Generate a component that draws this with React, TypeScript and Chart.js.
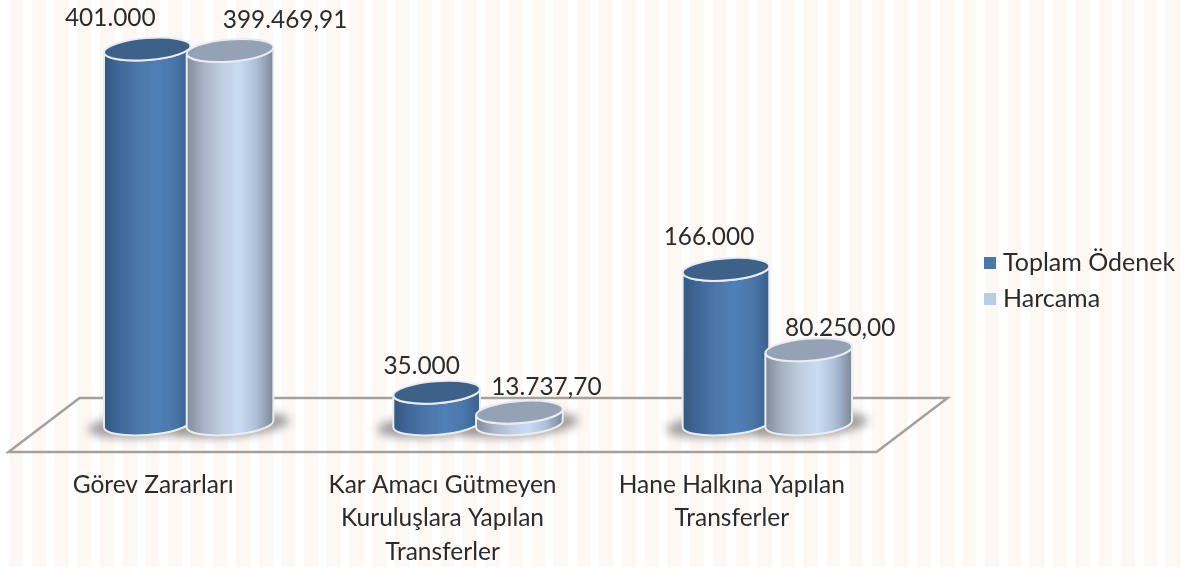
import React, { useEffect, useRef } from "react";
import { Chart, registerables } from "chart.js";

Chart.register(...registerables);

const categories = [
  ["Görev Zararları"],
  ["Kar Amacı Gütmeyen", "Kuruluşlara Yapılan", "Transferler"],
  ["Hane Halkına Yapılan", "Transferler"],
];
const toplamOdenek = [401000, 35000, 166000];
const harcama = [399469.91, 13737.7, 80250];
const seriesNames = ["Toplam Ödenek", "Harcama"];
const legendColors = ["#4a77aa", "#b9cce4"];

const FONT = "Lato, Carlito, 'Open Sans', sans-serif";
const TEXT = "#2b2b2b";
const TILT = (-4.5 * Math.PI) / 180;
const RY = 11;
const DEPTH_X = 71;
const DEPTH_Y = 54;

const looks = [
  {
    stops: ["#34597f", "#41699a", "#4d78a8", "#4f7fb6", "#4a78ac", "#3a5f8a"],
    top: "#3e6189",
    fraction: 0,
  },
  {
    stops: ["#7f8b9a", "#a8b4c5", "#bfcde0", "#c9dcf3", "#aec0d8", "#7c8897"],
    top: "#95a2b6",
    fraction: 2,
  },
];

const labelNudges = [
  [[-37, -31], [-15, -26], [-17, -32]],
  [[55, -30], [27, -25], [31.5, -22]],
];

function swatch(color: string) {
  const c = document.createElement("canvas");
  c.width = 12;
  c.height = 12;
  const x = c.getContext("2d") as CanvasRenderingContext2D;
  x.fillStyle = color;
  x.fillRect(0, 0, 12, 12);
  return c;
}

const cylinders = {
  id: "cylinders",
  beforeDraw(chart: any) {
    const { ctx, chartArea: a, width, height } = chart;
    ctx.save();
    ctx.fillStyle = "#ffffff";
    ctx.fillRect(0, 0, width, height);
    ctx.fillStyle = "#fef8f5";
    for (let x = 9.3; x < width - 5; x += 22.69) ctx.fillRect(x, 0, 14, height);

    ctx.strokeStyle = "#a5a09b";
    ctx.lineWidth = 2.5;
    ctx.lineJoin = "miter";
    ctx.beginPath();
    ctx.moveTo(a.left, a.bottom);
    ctx.lineTo(a.right, a.bottom);
    ctx.lineTo(a.right + DEPTH_X, a.bottom - DEPTH_Y);
    ctx.lineTo(a.left + DEPTH_X, a.bottom - DEPTH_Y);
    ctx.closePath();
    ctx.stroke();
    ctx.restore();

    if (chart.legend) {
      chart.legend.left = 978.5;
      chart.legend.right = 1187;
      chart.legend.top = 239;
      chart.legend.bottom = 330;
      chart.legend.adjustHitBoxes();
    }
  },
  beforeDatasetDraw() {
    return false;
  },
  afterDatasetsDraw(chart: any) {
    const { ctx } = chart;
    const count = chart.data.labels.length;
    // shadows first, so no cylinder is dimmed by its neighbour's shadow
    for (let i = 0; i < count; i++) {
      chart.data.datasets.forEach((_: any, d: number) => {
        const el = chart.getDatasetMeta(d).data[i];
        const cx = el.x + DEPTH_X / 2;
        const base = el.base - DEPTH_Y / 2 - 1;
        ctx.save();
        ctx.filter = "blur(5px)";
        ctx.fillStyle = "#a09c9a";
        ctx.beginPath();
        ctx.ellipse(cx, base + 1, el.width / 2 + 18, RY + 1, TILT, 0, Math.PI * 2);
        ctx.fill();
        ctx.restore();
      });
    }
    for (let i = 0; i < count; i++) {
      chart.data.datasets.forEach((ds: any, d: number) => {
        const el = chart.getDatasetMeta(d).data[i];
        const look = looks[d];
        const cx = el.x + DEPTH_X / 2;
        const base = el.base - DEPTH_Y / 2 - 1;
        const top = el.y - DEPTH_Y / 2;
        const rx = (el.width * 1.05) / 2;
        const t = Math.atan(-(RY / rx) * Math.tan(TILT));
        const ext = Math.hypot(rx * Math.cos(TILT), RY * Math.sin(TILT));

        const g = ctx.createLinearGradient(cx - ext, 0, cx + ext, 0);
        look.stops.forEach((c, k) => g.addColorStop(k / (look.stops.length - 1), c));

        ctx.save();
        ctx.filter = "blur(0.5px)";
        ctx.lineWidth = 2;
        ctx.strokeStyle = "#e9edf1";
        ctx.beginPath();
        ctx.ellipse(cx, base, rx, RY, TILT, t, t + Math.PI);
        ctx.ellipse(cx, top, rx, RY, TILT, t + Math.PI, t, true);
        ctx.closePath();
        ctx.fillStyle = g;
        ctx.fill();
        ctx.stroke();

        ctx.beginPath();
        ctx.ellipse(cx, top, rx, RY, TILT, 0, Math.PI * 2);
        ctx.fillStyle = look.top;
        ctx.fill();
        ctx.stroke();
        ctx.restore();

        const [nx, ny] = labelNudges[d][i];
        const text = ds.data[i].toLocaleString("tr-TR", {
          minimumFractionDigits: look.fraction,
          maximumFractionDigits: look.fraction,
        });
        ctx.save();
        ctx.font = `24.4px ${FONT}`;
        ctx.fillStyle = TEXT;
        ctx.textAlign = "center";
        ctx.textBaseline = "middle";
        ctx.fillText(text, cx + nx, top + ny);
        ctx.restore();
      });
    }
  },
};

export default function App() {
  const ref = useRef<HTMLCanvasElement>(null);
  useEffect(() => {
    document.body.style.margin = "0";
    const chart = new Chart(ref.current as any, {
      type: "bar",
      data: {
        labels: categories,
        datasets: [
          { label: seriesNames[0], data: toplamOdenek, backgroundColor: legendColors[0] },
          { label: seriesNames[1], data: harcama, backgroundColor: legendColors[1] },
        ],
      } as any,
      options: {
        responsive: false,
        animation: false,
        layout: { padding: { left: 8.5, right: 310.5, top: 2, bottom: 0 } },
        datasets: { bar: { categoryPercentage: 0.572, barPercentage: 1 } },
        elements: { bar: { borderWidth: 0 } },
        scales: {
          x: {
            grid: { display: false },
            border: { display: false },
            afterFit: (s: any) => {
              s.height = 115;
            },
            ticks: {
              autoSkip: false,
              maxRotation: 0,
              minRotation: 0,
              padding: 8,
              color: TEXT,
              font: { family: FONT, size: 24.5, lineHeight: 1.37 },
            },
          },
          y: { display: false, min: 0, max: 480000 },
        },
        plugins: {
          tooltip: { enabled: false },
          legend: {
            display: true,
            position: "chartArea",
            align: "start",
            labels: {
              usePointStyle: true,
              pointStyleWidth: 1,
              boxHeight: 12,
              padding: 11,
              color: TEXT,
              font: { family: FONT, size: 25 },
              generateLabels: (c: any) =>
                Chart.defaults.plugins.legend.labels
                  .generateLabels(c)
                  .map((item: any, k: number) => ({ ...item, pointStyle: swatch(legendColors[k]) })),
            },
          },
        },
      } as any,
      plugins: [cylinders],
    });
    return () => chart.destroy();
  }, []);
  return <canvas ref={ref} width={1187} height={567} style={{ display: "block" }} />;
}
